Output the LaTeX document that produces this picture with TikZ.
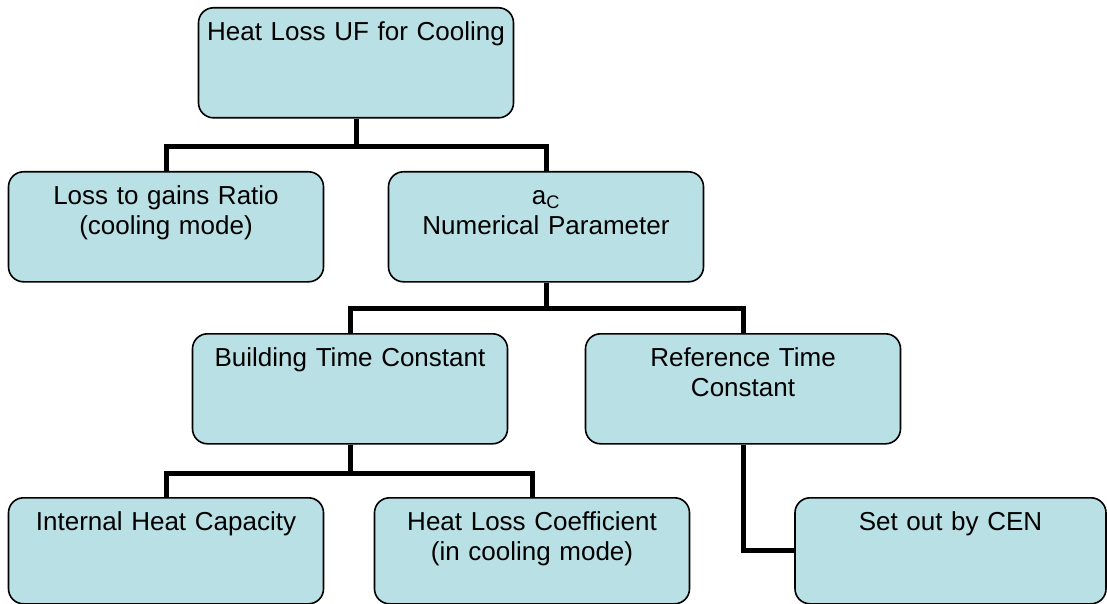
\documentclass[tikz,border=0pt]{standalone}
\usepackage{fontspec}
\setmainfont{Liberation Sans}
\definecolor{boxfill}{RGB}{185,224,228}

\begin{document}
\begin{tikzpicture}[x=1pt, y=-1pt,
    box/.style={draw, line width=1.6pt, fill=boxfill, rounded corners=15pt, inner sep=0pt,
      text width=315pt, align=center, text height=33pt, text depth=77pt, anchor=north,
      font=\fontsize{26}{30}\selectfont},
    lowbox/.style={box, text depth=73pt},
    link/.style={line width=5pt}]
      \useasboundingbox (0, 0) rectangle (1107, 604);
      \node[box] (heatloss) at (356, 7) {Heat Loss UF for Cooling};
      \node[box] (ratio) at (166, 171) {Loss to gains Ratio\\(cooling mode)};
      \node[box] (param) at (546, 171) {a\textsubscript{C}\\Numerical Parameter};
      \node[box] (buildtime) at (350, 333) {Building Time Constant};
      \node[box] (reftime) at (743, 333) {Reference Time\\Constant};
      \node[lowbox] (capacity) at (166, 497) {Internal Heat Capacity};
      \node[lowbox] (coeff) at (532, 497) {Heat Loss Coefficient\\(in cooling mode)};
      \node[lowbox, text width=311pt] (cen) at (950.5, 497) {Set out by CEN};
      \draw[link] (heatloss.south)--++(0, 28) -| (ratio.north);
      \draw[link] (heatloss.south)--++(0, 28) -| (param.north);
      \draw[link] (param.south)--++(0, 26) -| (buildtime.north);
      \draw[link] (param.south)--++(0, 26) -| (reftime.north);
      \draw[link] (buildtime.south)--++(0, 29) -| (capacity.north);
      \draw[link] (buildtime.south)--++(0, 29) -| (coeff.north);
      \draw[link] (reftime.south) |- (cen.west);
    \end{tikzpicture}
\end{document}
